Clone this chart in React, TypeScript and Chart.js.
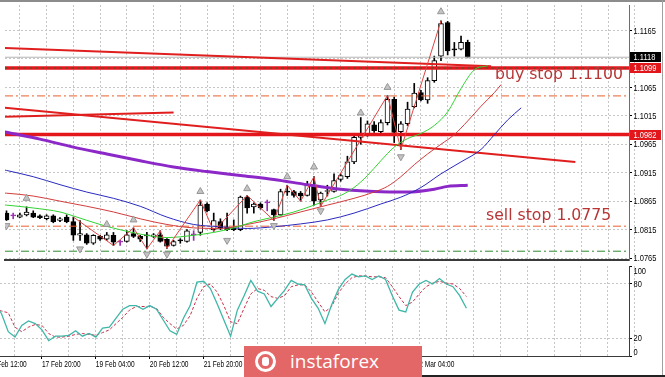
import React, { useEffect, useRef } from 'react';
import { Chart, registerables } from 'chart.js';

Chart.register(...registerables);

// ---------- data (H4 bars, index 0 = 14 Feb 12:00) ----------
const FIRST_BAR = 2;
const opens = [1.0844,1.0839,1.0837,1.0841,1.0844,1.0839,1.0834,1.0839,1.0831,1.0837,
  1.0829,1.0805,1.0806,1.0791,1.0803,1.0798,1.0805,1.0793,1.0794,1.0808,
  1.0803,1.0805,1.0803,1.0806,1.0798,1.0787,1.0797,1.0794,1.0806,1.0810,
  1.0860,1.0815,1.0829,1.0820,1.0818,1.0815,1.0872,1.0855,1.0860,1.0862,
  1.0850,1.0841,1.0882,1.0882,1.0879,1.0875,1.0891,1.0867,1.0882,1.0882,
  1.0903,1.0908,1.0934,1.0977,1.0981,1.0999,1.0987,1.1003,1.1044,1.0987,
  1.1001,1.1031,1.1056,1.1043,1.1077,1.1120,1.1179,1.1132,1.1132,1.1144];
const highs = [1.0848,1.0844,1.0844,1.0855,1.0848,1.0841,1.0841,1.0841,1.0836,1.0841,
  1.0837,1.0831,1.0808,1.0806,1.0805,1.0810,1.0810,1.0796,1.0813,1.0818,
  1.0805,1.0810,1.0808,1.0813,1.0799,1.0796,1.0799,1.0815,1.0813,1.0867,
  1.0862,1.0844,1.0834,1.0844,1.0832,1.0874,1.0875,1.0862,1.0862,1.0867,
  1.0851,1.0886,1.0893,1.0884,1.0882,1.0900,1.0908,1.0881,1.0893,1.0913,
  1.0913,1.0944,1.0981,1.1012,1.1006,1.1005,1.1008,1.1051,1.1048,1.1005,
  1.1039,1.1072,1.1060,1.1082,1.1120,1.1182,1.1181,1.1144,1.1155,1.1148];
const lows = [1.0831,1.0834,1.0836,1.0839,1.0836,1.0834,1.0832,1.0827,1.0829,1.0827,
  1.0796,1.0796,1.0789,1.0789,1.0796,1.0796,1.0787,1.0787,1.0793,1.0801,
  1.0794,1.0781,1.0801,1.0793,1.0782,1.0786,1.0791,1.0793,1.0796,1.0805,
  1.0846,1.0812,1.0815,1.0813,1.0813,1.0813,1.0844,1.0844,1.0851,1.0848,
  1.0831,1.0839,1.0875,1.0872,1.0865,1.0874,1.0858,1.0856,1.0874,1.0881,
  1.0900,1.0905,1.0931,1.0965,1.0979,1.0986,1.0984,1.0999,1.0968,1.0956,
  1.0998,1.1029,1.1041,1.1037,1.1074,1.1112,1.1122,1.1120,1.1131,1.1117];
const closes = [1.0832,1.0839,1.0841,1.0846,1.0837,1.0836,1.0839,1.0829,1.0834,1.0829,
  1.0805,1.0808,1.0791,1.0805,1.0798,1.0806,1.0793,1.0793,1.0806,1.0803,
  1.0798,1.0804,1.0806,1.0794,1.0786,1.0794,1.0795,1.0813,1.0806,1.0858,
  1.0848,1.0831,1.0817,1.0815,1.0815,1.0872,1.0853,1.0860,1.0853,1.0862,
  1.0841,1.0882,1.0881,1.0875,1.0874,1.0893,1.0865,1.0879,1.0883,1.0901,
  1.0910,1.0934,1.0977,1.0982,1.1001,1.0989,1.1003,1.1044,1.0986,1.1001,
  1.1027,1.1055,1.1043,1.1077,1.1112,1.1177,1.1129,1.1131,1.1144,1.1118];

// Alligator + long MA (bar index, price)
const lipsIdx = [0,2,6,10,12,16,20,24,26,30,33,36,39,42,45,48,50,52,54,56,58,60,62,64,66,68,70,72,74];
const lipsVal = [1.0860,1.0858,1.0853,1.0846,1.0839,1.0824,1.0812,1.0803,1.0801,1.0805,1.0810,1.0818,1.0829,1.0837,1.0846,1.0858,1.0867,1.0875,1.0889,1.0910,1.0936,1.0960,1.0975,1.0984,1.0998,1.1022,1.1063,1.1096,1.1103];
const teethIdx = [0,2,6,10,14,18,22,26,30,34,38,42,46,50,54,57,59,61,63,65,67,69,71,73,75,76];
const teethVal = [1.0880,1.0879,1.0874,1.0865,1.0856,1.0846,1.0834,1.0824,1.0818,1.0817,1.0824,1.0834,1.0846,1.0858,1.0870,1.0881,1.0891,1.0908,1.0929,1.0948,1.0965,1.0982,1.1006,1.1032,1.1056,1.1070];
const jawIdx = [0,2,6,10,14,18,22,26,30,34,38,42,46,50,54,58,61,64,67,70,73,75,77,79];
const jawVal = [1.0924,1.0919,1.0908,1.0894,1.0881,1.0870,1.0856,1.0837,1.0824,1.0820,1.0817,1.0820,1.0825,1.0832,1.0844,1.0860,1.0872,1.0889,1.0913,1.0934,1.0956,1.0982,1.1008,1.1029];
const longMaIdx = [0,2,7,12,17,22,27,32,37,42,47,52,57,62,66,68,71];
const longMaVal = [1.0991,1.0986,1.0974,1.0960,1.0948,1.0936,1.0925,1.0917,1.0910,1.0903,1.0894,1.0886,1.0882,1.0881,1.0886,1.0891,1.0893];

const zigzagIdx = [12,18,21,23,25,26,31,33,38,42,44,46,48,49,59,61,67];
const zigzagVal = [1.0837,1.0787,1.0818,1.0781,1.0813,1.0782,1.0867,1.0812,1.0875,1.0831,1.0893,1.0865,1.0908,1.0856,1.1051,1.0956,1.1182];

const fractalUpIdx = [5,17,21,31,38,44,48,55,59,67];
const fractalUpVal = [1.0870,1.0824,1.0832,1.0882,1.0887,1.0908,1.0925,1.1020,1.1065,1.1198];
const fractalDnIdx = [2,13,23,26,35,42,49,61];
const fractalDnVal = [1.0822,1.0781,1.0772,1.0772,1.0796,1.0822,1.0848,1.0943];

// trend lines (bar index, price)
const trendUpperIdx = [0, 74.5];
const trendUpperVal = [1.1135, 1.1102];
const trendMidIdx = [0, 87.1];
const trendMidVal = [1.1031, 1.0934];
const trendShortIdx = [0, 27];
const trendShortVal = [1.1013, 1.1021];

// horizontal levels
const buyStopLevel = 1.1099;
const supportLevel = 1.0982;
const bidLevel = 1.1118;
const dashUpperLevel = 1.1050;
const dashLowerLevel = 1.0821;
const sellStopLevel = 1.0777;

// stochastic
const STOCH_FIRST = 1;
const stochMain = [58,47,27,21,34,39,36,29,17,22,
  22,23,28,22,25,21,31,32,42,52,
  56,56,52,56,52,40,28,24,42,56,
  82,83,75,58,40,22,51,67,84,72,
  69,55,64,73,84,80,79,64,53,36,
  57,74,85,91,88,89,85,89,85,67,
  51,49,71,80,84,80,86,80,77,67,53];
const stochSignal = [52,50,48,32,27,32,35,34,25,21,
  21,22,24,25,24,23,26,29,36,43,
  51,55,55,55,53,43,36,30,34,45,
  64,77,80,71,56,38,36,53,69,75,
  73,66,64,67,77,79,79,71,60,49,
  55,70,80,87,89,89,88,88,87,77,
  66,56,60,69,77,81,83,81,80,75,66];

// axes
const timeLabelIdx = [0, 8, 16, 24, 32, 40, 48, 56, 64];
const timeLabels = ['14 Feb 12:00','17 Feb 20:00','19 Feb 04:00','20 Feb 12:00','21 Feb 20:00','25 Feb 04:00','26 Feb 12:00','27 Feb 20:00','2 Mar 04:00'];
const priceTicks = [1.0765,1.0815,1.0865,1.0915,1.0965,1.1015,1.1065,1.1115,1.1165];
const oscTicks = [0, 20, 80, 100];
const markerPrices = [1.1118, 1.1099, 1.0982];
const markerColors = ['#000000', '#e3161c', '#e3161c'];

const X_MIN = 1.774;
const X_MAX = 95.13;
const P_MIN = 1.076155;
const P_MAX = 1.120983;
const GRID_STEP = 4;

// ---------- helpers ----------
const LABEL_FONT = "'Liberation Sans', Arial, sans-serif";
const GRID = '#c6c6c6';
const gridTicks: number[] = [];
for (let v = 0; v <= 96; v += GRID_STEP) gridTicks.push(v);

const pts = (idx: number[], vals: number[]) => idx.map((x, k) => ({ x, y: vals[k] }));
const level = (v: number) => [{ x: X_MIN, y: v }, { x: X_MAX, y: v }];

function lineDS(data: any[], color: string, width: number, order: number, extra: any = {}) {
  return {
    type: 'line', data, borderColor: color, backgroundColor: color, borderWidth: width,
    pointRadius: 0, fill: false, order, ...extra,
  };
}

// narrow terminal-style text (horizontally condensed)
function narrowText(ctx: CanvasRenderingContext2D, text: string, x: number, y: number, size: number, squeeze: number, color: string, baseline: CanvasTextBaseline = 'middle') {
  ctx.save();
  ctx.translate(x, y);
  ctx.scale(squeeze, 1);
  ctx.font = `${size}px ${LABEL_FONT}`;
  ctx.fillStyle = color;
  ctx.textAlign = 'left';
  ctx.textBaseline = baseline;
  ctx.fillText(text, 0, 0);
  ctx.restore();
}

const priceAxisPlugin = {
  id: 'priceAxisLabels',
  afterDraw(chart: any) {
    const { ctx, chartArea } = chart;
    const y = chart.scales.y;
    priceTicks.forEach((v) => {
      narrowText(ctx, v.toFixed(4), chartArea.right + 4.5, y.getPixelForValue(v) + 0.5, 9.5, 0.79, '#000');
    });
    markerPrices.forEach((p, k) => {
      const py = Math.round(y.getPixelForValue(p));
      ctx.save();
      ctx.fillStyle = markerColors[k];
      ctx.fillRect(chartArea.right + 1, py - 5, 31, 10);
      ctx.restore();
      narrowText(ctx, p.toFixed(4), chartArea.right + 4.5, py + 0.5, 9.5, 0.79, '#fff');
    });
  },
};

const oscAxisPlugin = {
  id: 'oscAxisLabels',
  afterDraw(chart: any) {
    const { ctx, chartArea } = chart;
    const y = chart.scales.y;
    const x = chart.scales.x;
    oscTicks.forEach((v) => {
      let py = y.getPixelForValue(v);
      if (v === 100) py += 4.5;
      if (v === 0) py -= 4;
      narrowText(ctx, String(v), chartArea.right + 4.5, py + 0.5, 9.5, 0.79, '#000');
    });
    timeLabelIdx.forEach((idx, k) => {
      narrowText(ctx, timeLabels[k], x.getPixelForValue(idx), chartArea.bottom + 9, 9, 0.73, '#000');
    });
  },
};

function buildMain(canvas: HTMLCanvasElement) {
  const xs = opens.map((_, k) => FIRST_BAR + k);
  const isDoji = (k: number) => opens[k] === closes[k];
  const DOJI = '#9a2fb0';
  const wickData = xs.map((x, k) => ({ x, y: [lows[k], highs[k]] }));
  const bodyData = xs.map((x, k) => ({ x, y: [opens[k], closes[k]] }));
  const bodyFill = xs.map((_, k) => (isDoji(k) ? DOJI : closes[k] > opens[k] ? '#ffffff' : '#000000'));
  const bodyStroke = xs.map((_, k) => (isDoji(k) ? DOJI : '#000000'));
  const wickColor = xs.map((_, k) => (isDoji(k) ? DOJI : '#000000'));

  const datasets: any[] = [
    { type: 'bar', data: wickData, backgroundColor: wickColor, borderWidth: 0, barThickness: 1, grouped: false, order: 60 },
    { type: 'bar', data: bodyData, backgroundColor: bodyFill, borderColor: bodyStroke, borderWidth: 1, borderSkipped: false, barThickness: 5, minBarLength: 1, grouped: false, order: 59 },
    lineDS(level(dashUpperLevel), '#e8602e', 1, 30, { borderDash: [8, 3, 2, 3] }),
    lineDS(level(dashLowerLevel), '#e8602e', 1, 30, { borderDash: [8, 3, 2, 3] }),
    lineDS(level(sellStopLevel), '#2f8a2f', 1, 30, { borderDash: [8, 3, 2, 3] }),
    lineDS(level(bidLevel), '#b4b4b4', 1, 29),
    lineDS(level(buyStopLevel), '#e3161c', 3.5, 28),
    lineDS(level(buyStopLevel), '#2f6a2f', 1, 27, { borderDash: [3, 3] }),
    lineDS(level(supportLevel), '#e3161c', 3.5, 28),
    lineDS(pts(trendUpperIdx, trendUpperVal), '#e01e1e', 2, 26),
    lineDS(pts(trendMidIdx, trendMidVal), '#e01e1e', 2, 26),
    lineDS(pts(trendShortIdx, trendShortVal), '#e01e1e', 2, 26),
    lineDS(pts(longMaIdx, longMaVal), '#8c28c8', 3, 20, { cubicInterpolationMode: 'monotone' }),
    lineDS(pts(jawIdx, jawVal), '#2a2abf', 1, 19, { cubicInterpolationMode: 'monotone' }),
    lineDS(pts(teethIdx, teethVal), '#d23c3c', 1, 18, { cubicInterpolationMode: 'monotone' }),
    lineDS(pts(lipsIdx, lipsVal), '#32d232', 1, 17, { cubicInterpolationMode: 'monotone' }),
    lineDS(pts(zigzagIdx, zigzagVal), '#e04444', 1, 16),
    { type: 'line', data: pts(fractalUpIdx, fractalUpVal), showLine: false, pointStyle: 'triangle', pointRadius: 4, pointRotation: 0, pointBackgroundColor: '#c4c4c4', pointBorderColor: '#969696', pointBorderWidth: 1, order: 5 },
    { type: 'line', data: pts(fractalDnIdx, fractalDnVal), showLine: false, pointStyle: 'triangle', pointRadius: 4, pointRotation: 180, pointBackgroundColor: '#c4c4c4', pointBorderColor: '#969696', pointBorderWidth: 1, order: 5 },
  ];

  return new Chart(canvas, {
    type: 'line',
    data: { datasets },
    options: {
      responsive: false, animation: false, devicePixelRatio: 1, events: [],
      layout: { padding: { top: 3, bottom: 2, left: 0, right: 0 } },
      plugins: { legend: { display: false }, tooltip: { enabled: false } },
      scales: {
        x: {
          type: 'linear', min: X_MIN, max: X_MAX, offset: false,
          grid: { color: GRID, lineWidth: 1, drawTicks: false, offset: false },
          border: { display: true, color: '#3a3a3a', width: 2, dash: [2, 2] },
          ticks: { display: false },
          afterBuildTicks: (s: any) => { s.ticks = gridTicks.map((v) => ({ value: v })); },
          afterFit: (s: any) => { s.height = 0; s.paddingLeft = 0; s.paddingRight = 0; s.paddingTop = 0; s.paddingBottom = 0; },
        },
        y: {
          type: 'linear', position: 'right', min: P_MIN, max: P_MAX,
          grid: { color: GRID, lineWidth: 1, tickLength: 3, tickColor: '#000' },
          border: { display: true, color: '#6e6e6e', width: 1, dash: [2, 2] },
          ticks: { display: false },
          afterBuildTicks: (s: any) => { s.ticks = priceTicks.map((v) => ({ value: v })); },
          afterFit: (s: any) => { s.width = 36; s.paddingTop = 0; s.paddingBottom = 0; },
        },
      },
    } as any,
    plugins: [priceAxisPlugin],
  } as any);
}

function buildOsc(canvas: HTMLCanvasElement) {
  const mainPts = stochMain.map((v, k) => ({ x: STOCH_FIRST + k, y: v }));
  const sigPts = stochSignal.map((v, k) => ({ x: STOCH_FIRST + k, y: v }));
  return new Chart(canvas, {
    type: 'line',
    data: {
      datasets: [
        lineDS(sigPts, '#c8304a', 1, 2, { borderDash: [3, 2] }),
        lineDS(mainPts, '#3fb6a8', 1.3, 1),
      ],
    },
    options: {
      responsive: false, animation: false, devicePixelRatio: 1, events: [],
      layout: { padding: { top: 10, bottom: 0, left: 0, right: 0 } },
      plugins: { legend: { display: false }, tooltip: { enabled: false } },
      scales: {
        x: {
          type: 'linear', min: X_MIN, max: X_MAX, offset: false,
          grid: { color: GRID, lineWidth: 1, tickLength: 3, offset: false,
            tickColor: (c: any) => (c.tick && timeLabelIdx.includes(c.tick.value) ? '#000' : 'rgba(0,0,0,0)') },
          border: { display: true, color: '#3a3a3a', width: 1, dash: [2, 2] },
          ticks: { display: false },
          afterBuildTicks: (s: any) => { s.ticks = gridTicks.map((v) => ({ value: v })); },
          afterFit: (s: any) => { s.height = 21; s.paddingLeft = 0; s.paddingRight = 0; },
        },
        y: {
          type: 'linear', position: 'right', min: 0, max: 100,
          grid: { lineWidth: 1, tickLength: 3, tickColor: '#000',
            color: (c: any) => (c.tick && (c.tick.value === 100 || c.tick.value === 0) ? 'rgba(0,0,0,0)' : GRID) },
          border: { display: true, color: '#3a3a3a', width: 1, dash: [2, 2] },
          ticks: { display: false },
          afterBuildTicks: (s: any) => { s.ticks = oscTicks.map((v) => ({ value: v })); },
          afterFit: (s: any) => { s.width = 36; s.paddingTop = 0; s.paddingBottom = 0; },
        },
      },
    } as any,
    plugins: [oscAxisPlugin],
  } as any);
}

export default function App() {
  const mainRef = useRef<HTMLCanvasElement>(null);
  const oscRef = useRef<HTMLCanvasElement>(null);

  useEffect(() => {
    const main = buildMain(mainRef.current!);
    const osc = buildOsc(oscRef.current!);
    return () => { main.destroy(); osc.destroy(); };
  }, []);

  const noteStyle: React.CSSProperties = {
    position: 'absolute', fontFamily: "'DejaVu Sans', sans-serif", fontSize: '15.7px',
    lineHeight: '16px', color: '#b83636', whiteSpace: 'nowrap',
  };

  return (
    <div style={{ position: 'fixed', left: 0, top: 0, width: 665, height: 377, background: '#fff', overflow: 'hidden' }}>
      <canvas ref={mainRef} width={665} height={265} style={{ position: 'absolute', left: 0, top: 0, width: 665, height: 265 }} />
      <canvas ref={oscRef} width={665} height={121} style={{ position: 'absolute', left: 0, top: 256, width: 665, height: 121 }} />
      <div style={{ position: 'absolute', left: 0, top: 0, width: 665, height: 2, background: '#8c8c8c' }} />
      <div style={{ position: 'absolute', left: 662, top: 0, width: 1, height: 377, background: '#a0a0a0' }} />
      <div style={{ position: 'absolute', left: 422, top: 375, width: 243, height: 2, background: '#222' }} />
      <div style={{ ...noteStyle, left: 495, top: 66 }}>buy stop 1.1100</div>
      <div style={{ ...noteStyle, left: 486, top: 207 }}>sell stop 1.0775</div>
      <div style={{ position: 'absolute', left: 244, top: 346, width: 178, height: 31, background: '#e36767' }}>
        <div style={{ position: 'absolute', left: 11, top: 5, width: 21, height: 21, borderRadius: '50%', border: '3px solid #fff', boxSizing: 'border-box' }} />
        <div style={{ position: 'absolute', left: 18, top: 11, width: 7, height: 9, borderRadius: '3px', background: '#fff' }} />
        <div style={{ position: 'absolute', left: 46, top: 0, lineHeight: '30px', fontFamily: "'Open Sans', sans-serif", fontSize: 19, color: '#fff', whiteSpace: 'nowrap' }}>instaforex</div>
      </div>
    </div>
  );
}
